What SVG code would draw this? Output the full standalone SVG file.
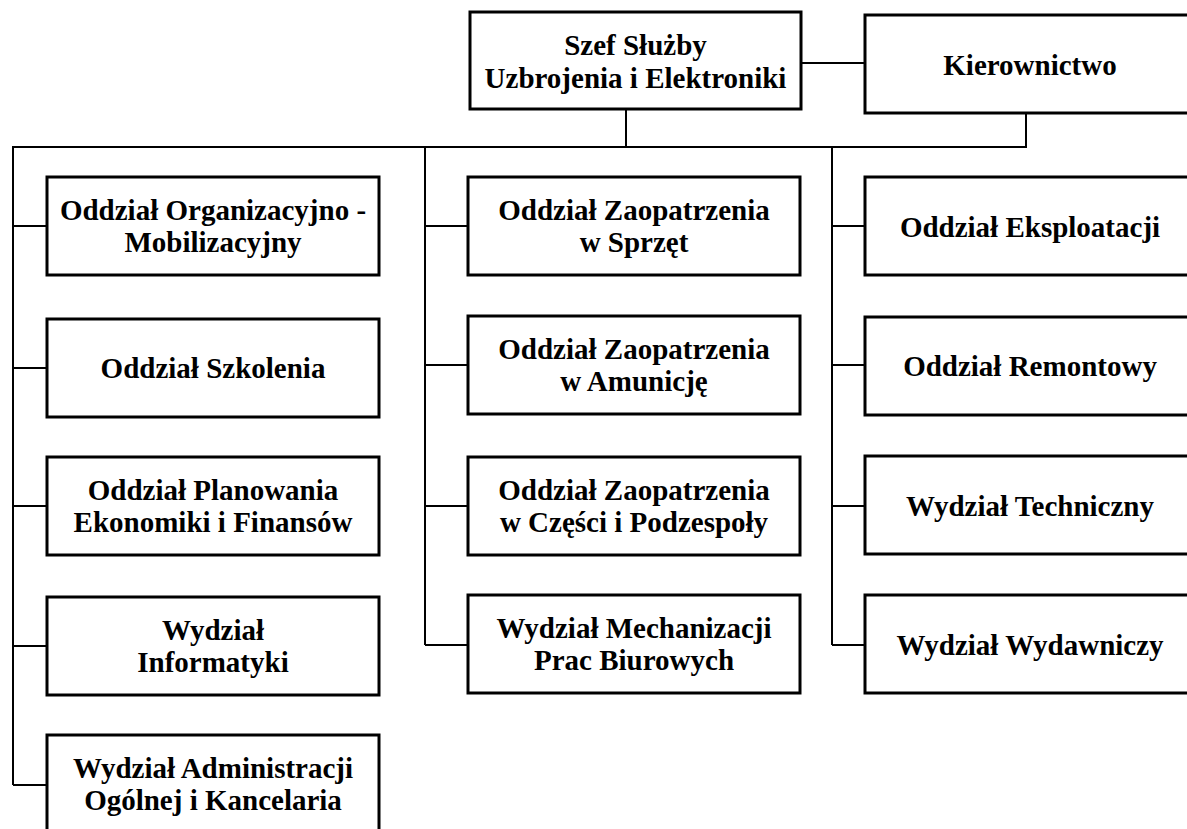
<svg xmlns="http://www.w3.org/2000/svg" width="1187" height="829" viewBox="0 0 1187 829">
<style>
.box{fill:#fff;stroke:#000;stroke-width:3}
.ln{fill:none;stroke:#000;stroke-width:2}
text{font-family:"Liberation Serif","Times New Roman",serif;font-weight:bold;font-size:29px;text-anchor:middle;fill:#000}
</style>
<rect width="1187" height="829" fill="#fff"/>
<g id="connectors" class="ln">
<path d="M801 63H864"/>
<path d="M626 109V147"/>
<path d="M1026 113V147"/>
<path d="M12 147H1027"/>
<path d="M13 147V785"/>
<path d="M13 226H47M13 368H47M13 506H47M13 646H47M13 785H47"/>
<path d="M425 147V645"/>
<path d="M425 226H468M425 365H468M425 506H468M425 645H468"/>
<path d="M832 147V645"/>
<path d="M832 226H864M832 365H864M832 506H864M832 645H864"/>
</g>
<g id="szef"><rect class="box" x="470" y="12" width="331" height="97"/><text x="635.5" y="55">Szef Służby</text><text x="635.5" y="88">Uzbrojenia i Elektroniki</text></g>
<g id="kierownictwo"><rect class="box" x="865" y="15" width="335" height="98"/><text x="1030" y="75">Kierownictwo</text></g>
<g id="l1"><rect class="box" x="47" y="177" width="332" height="98"/><text x="213" y="220">Oddział Organizacyjno -</text><text x="213" y="252">Mobilizacyjny</text></g>
<g id="l2"><rect class="box" x="47" y="319" width="332" height="98"/><text x="213" y="378">Oddział Szkolenia</text></g>
<g id="l3"><rect class="box" x="47" y="457" width="332" height="98"/><text x="213" y="500">Oddział Planowania</text><text x="213" y="532">Ekonomiki i Finansów</text></g>
<g id="l4"><rect class="box" x="47" y="597" width="332" height="98"/><text x="213" y="640">Wydział</text><text x="213" y="672">Informatyki</text></g>
<g id="l5"><rect class="box" x="47" y="735" width="332" height="98"/><text x="213" y="778">Wydział Administracji</text><text x="213" y="810">Ogólnej i Kancelaria</text></g>
<g id="m1"><rect class="box" x="468" y="177" width="332" height="98"/><text x="634" y="220">Oddział Zaopatrzenia</text><text x="634" y="252">w Sprzęt</text></g>
<g id="m2"><rect class="box" x="468" y="316" width="332" height="98"/><text x="634" y="359">Oddział Zaopatrzenia</text><text x="634" y="391">w Amunicję</text></g>
<g id="m3"><rect class="box" x="468" y="457" width="332" height="98"/><text x="634" y="500">Oddział Zaopatrzenia</text><text x="634" y="532">w Części i Podzespoły</text></g>
<g id="m4"><rect class="box" x="468" y="595" width="332" height="98"/><text x="634" y="638">Wydział Mechanizacji</text><text x="634" y="670">Prac Biurowych</text></g>
<g id="r1"><rect class="box" x="865" y="177" width="335" height="98"/><text x="1030" y="237">Oddział Eksploatacji</text></g>
<g id="r2"><rect class="box" x="865" y="317" width="335" height="98"/><text x="1030" y="376">Oddział Remontowy</text></g>
<g id="r3"><rect class="box" x="865" y="456" width="335" height="98"/><text x="1030" y="516">Wydział Techniczny</text></g>
<g id="r4"><rect class="box" x="865" y="595" width="335" height="98"/><text x="1030" y="655">Wydział Wydawniczy</text></g>
</svg>
